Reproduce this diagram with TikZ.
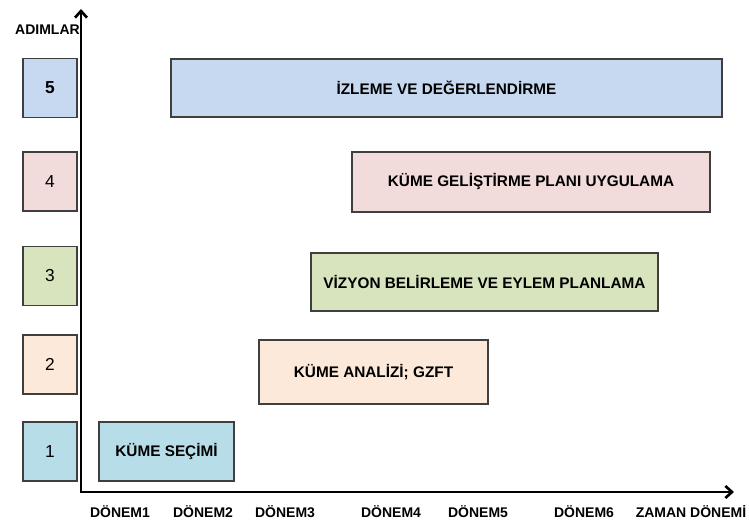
\documentclass[tikz,border=0pt]{standalone}
\usepackage{fontspec}
\setmainfont{Liberation Sans}
\usepackage{xcolor}
\usetikzlibrary{arrows.meta}

\definecolor{boxline}{HTML}{3F3F3F}
\definecolor{izlemeblue}{HTML}{C6D9F1}
\definecolor{uygulamapink}{HTML}{F2DCDB}
\definecolor{vizyongreen}{HTML}{D7E4BD}
\definecolor{analizpeach}{HTML}{FDE9D9}
\definecolor{secimcyan}{HTML}{B7DEE8}

\begin{document}
\begin{tikzpicture}[x=0.75pt, y=-0.75pt,
	numbox/.style={draw=boxline, line width=1.1pt, rectangle, inner sep=0pt, minimum width=40.5pt, minimum height=44.25pt, font=\fontsize{13}{15}\selectfont},
	barbox/.style={draw=boxline, line width=1.1pt, rectangle, inner sep=0pt, font=\fontsize{11.5}{13}\selectfont\bfseries},
	axislabel/.style={inner sep=0pt, font=\fontsize{10.5}{12}\selectfont\bfseries}]
			\useasboundingbox (0, 0) rectangle (749, 523);

			\draw (50, 88) 		node[numbox, fill=izlemeblue, font=\fontsize{13}{15}\selectfont\bfseries] 	(s5) 	{5};
			\draw (50, 181.5) 	node[numbox, fill=uygulamapink] 	(s4) 	{4};
			\draw (50, 276) 	node[numbox, fill=vizyongreen] 		(s3) 	{3};
			\draw (50, 364.5) 	node[numbox, fill=analizpeach] 		(s2) 	{2};
			\draw (50, 451.5) 	node[numbox, fill=secimcyan] 		(s1) 	{1};

			\draw (446.5, 88) 	node[barbox, fill=izlemeblue, minimum width=413.25pt, minimum height=43.5pt] 		(b5) 	{İZLEME VE DEĞERLENDİRME};
			\draw (531, 182) 	node[barbox, fill=uygulamapink, minimum width=268.5pt, minimum height=45pt] 		(b4) 	{KÜME GELİŞTİRME PLANI UYGULAMA};
			\draw (484.5, 282) 	node[barbox, fill=vizyongreen, minimum width=260.25pt, minimum height=43.5pt] 		(b3) 	{VİZYON BELİRLEME VE EYLEM PLANLAMA};
			\draw (373.5, 372) 	node[barbox, fill=analizpeach, minimum width=171.75pt, minimum height=48pt] 		(b2) 	{KÜME ANALİZİ; GZFT};
			\draw (166.5, 451.5) 	node[barbox, fill=secimcyan, minimum width=101.25pt, minimum height=44.25pt] 		(b1) 	{KÜME SEÇİMİ};

			\coordinate (origin) at (81, 492);
			\coordinate (ytip) at (81, 9);
			\coordinate (xtip) at (734, 492);
			\draw[line width=2pt, line join=miter, {Straight Barb[length=5pt, width=9pt]}-{Straight Barb[length=5pt, width=9pt]}] (ytip) -- (origin) -- (xtip);

			\draw (47.5, 30) 	node[axislabel] 	(adimlar) 	{ADIMLAR};
			\draw (120, 512) 	node[axislabel] 	(d1) 		{DÖNEM1};
			\draw (203, 512) 	node[axislabel] 	(d2) 		{DÖNEM2};
			\draw (285, 512) 	node[axislabel] 	(d3) 		{DÖNEM3};
			\draw (391, 512) 	node[axislabel] 	(d4) 		{DÖNEM4};
			\draw (478, 512) 	node[axislabel] 	(d5) 		{DÖNEM5};
			\draw (584, 512) 	node[axislabel] 	(d6) 		{DÖNEM6};
			\draw (691, 512) 	node[axislabel] 	(zaman) 	{ZAMAN DÖNEMİ};
		\end{tikzpicture}
\end{document}
